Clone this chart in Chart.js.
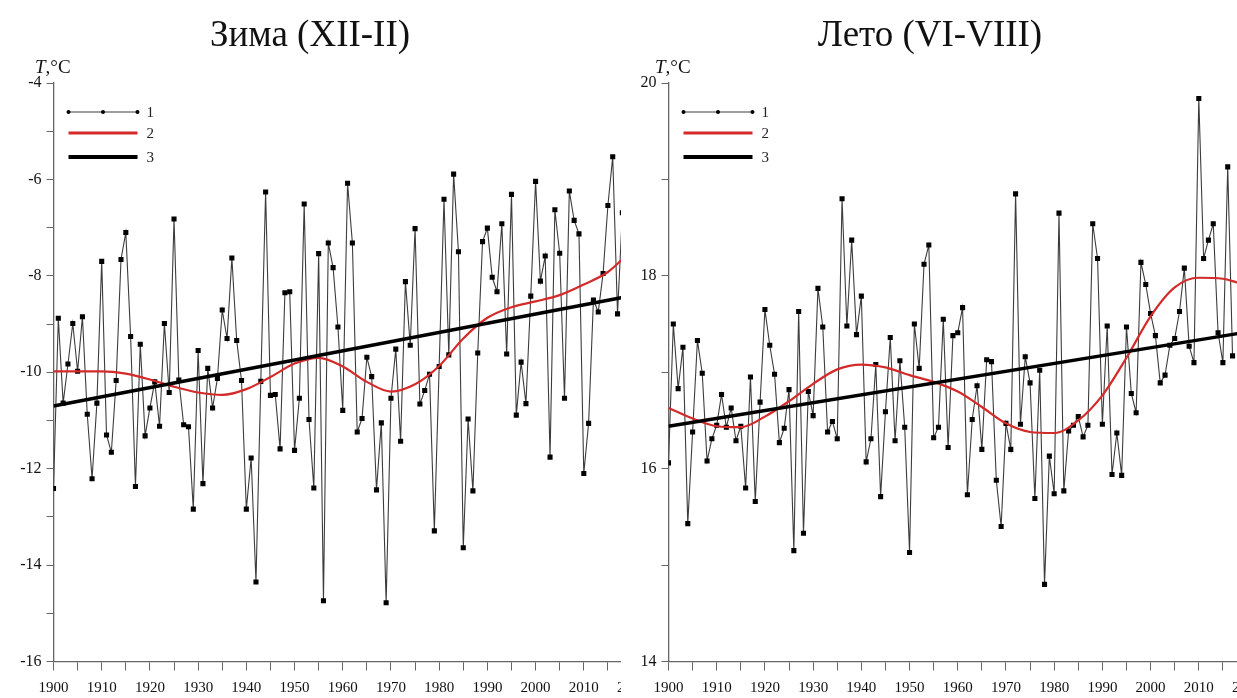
<!DOCTYPE html>
<html lang="ru">
<head>
<meta charset="utf-8">
<title>Зима (XII-II) / Лето (VI-VIII)</title>
<script src="https://cdn.jsdelivr.net/npm/chart.js@4.4.1/dist/chart.umd.min.js"></script>
<style>
  html, body { margin: 0; padding: 0; background: #fff; overflow: hidden; }
  body { width: 1237px; height: 698px; position: relative; font-family: "Liberation Serif", "Times New Roman", serif; color: #111; }
  .panel { position: absolute; top: 0; height: 698px; overflow: hidden; }
  .panel canvas { position: absolute; left: 0; top: 0; }
  .titulo { position: absolute; top: 12px; font-size: 37px; transform: translateX(-50%); white-space: nowrap; }
  .unidad { position: absolute; top: 56px; font-size: 19px; white-space: nowrap; }
</style>
</head>
<body>
<div class="panel" style="left:0;width:621px">
  <canvas id="graficaZima" width="680" height="698"></canvas>
</div>
<div class="panel" style="left:621px;width:616px">
  <canvas id="graficaLeto" width="680" height="698"></canvas>
</div>
<div class="titulo" style="left:310px">Зима (XII-II)</div>
<div class="titulo" style="left:930px">Лето (VI-VIII)</div>
<div class="unidad" style="left:35px"><i>T</i>,°C</div>
<div class="unidad" style="left:655px"><i>T</i>,°C</div>

<script>
// годы наблюдений
const yearsZima = Array.from({ length: 119 }, (_, i) => 1900 + i); // 1900-2018
const yearsLeto = Array.from({ length: 118 }, (_, i) => 1900 + i); // 1900-2017

// 1 - средняя температура сезона
const tempZima = [
    -12.41, -8.88, -10.64, -9.83, -8.99, -9.98, -8.85, -10.87, -12.21, -10.64,
    -7.70, -11.30, -11.66, -10.17, -7.66, -7.10, -9.26, -12.37, -9.42, -11.32,
    -10.74, -10.20, -11.12, -8.99, -10.42, -6.82, -10.16, -11.09, -11.13, -12.84,
    -9.55, -12.31, -9.92, -10.74, -10.13, -8.71, -9.30, -7.63, -9.34, -10.17,
    -12.84, -11.78, -14.35, -10.19, -6.26, -10.48, -10.46, -11.59, -8.35, -8.33,
    -11.62, -10.54, -6.51, -10.98, -12.40, -7.54, -14.74, -7.32, -7.83, -9.06,
    -10.79, -6.08, -7.32, -11.24, -10.96, -9.69, -10.09, -12.44, -11.05, -14.78,
    -10.54, -9.52, -11.43, -8.12, -9.44, -7.02, -10.66, -10.38, -10.04, -13.29,
    -9.88, -6.41, -9.64, -5.89, -7.50, -13.64, -10.97, -12.46, -9.60, -7.29,
    -7.01, -8.03, -8.33, -6.92, -9.62, -6.31, -10.89, -9.79, -10.65, -8.42,
    -6.04, -8.11, -7.59, -11.76, -6.63, -7.53, -10.54, -6.24, -6.85, -7.13,
    -12.10, -11.06, -8.50, -8.75, -7.95, -6.54, -5.53, -8.79, -6.69
];
const tempLeto = [
    16.06, 17.50, 16.83, 17.26, 15.43, 16.38, 17.33, 16.99, 16.08, 16.31,
    16.45, 16.77, 16.43, 16.63, 16.29, 16.44, 15.80, 16.95, 15.66, 16.69,
    17.65, 17.28, 16.98, 16.27, 16.42, 16.82, 15.15, 17.63, 15.33, 16.80,
    16.55, 17.87, 17.47, 16.38, 16.49, 16.31, 18.80, 17.48, 18.37, 17.39,
    17.79, 16.07, 16.31, 17.08, 15.71, 16.59, 17.36, 16.29, 17.12, 16.43,
    15.13, 17.50, 17.04, 18.12, 18.32, 16.32, 16.43, 17.55, 16.22, 17.38,
    17.41, 17.67, 15.73, 16.51, 16.86, 16.20, 17.13, 17.11, 15.88, 15.40,
    16.47, 16.20, 18.85, 16.46, 17.16, 16.89, 15.69, 17.02, 14.80, 16.13,
    15.74, 18.65, 15.77, 16.39, 16.45, 16.54, 16.33, 16.45, 18.54, 18.18,
    16.46, 17.48, 15.94, 16.37, 15.93, 17.47, 16.78, 16.58, 18.14, 17.91,
    17.61, 17.38, 16.89, 16.97, 17.28, 17.35, 17.63, 18.08, 17.27, 17.10,
    19.84, 18.18, 18.37, 18.54, 17.41, 17.10, 19.13, 17.17
];

// 2 - сглаженная кривая
const smoothYears = [1900, 1905, 1910, 1915, 1920, 1925, 1930, 1935, 1940, 1945, 1950, 1955,
    1960, 1965, 1970, 1975, 1980, 1985, 1990, 1995, 2000, 2005, 2010, 2015, 2018];
const smoothZima = [-9.98, -9.98, -9.98, -10.03, -10.15, -10.30, -10.42, -10.47, -10.35, -10.10, -9.82, -9.70,
    -9.88, -10.20, -10.40, -10.25, -9.87, -9.30, -8.87, -8.65, -8.53, -8.40, -8.18, -7.92, -7.66];
const smoothLeto = [16.63, 16.52, 16.44, 16.43, 16.54, 16.70, 16.88, 17.03, 17.08, 17.05, 16.97, 16.90,
    16.80, 16.64, 16.47, 16.38, 16.37, 16.50, 16.76, 17.15, 17.58, 17.88, 17.98, 17.97, 17.93];

// 3 - линейный тренд
const trendYears = [1900, 2018];
const trendZima = [-10.70, -8.45];
const trendLeto = [16.44, 17.40];

const fuente = "'Liberation Serif', 'Times New Roman', serif";

function puntos(xs, ys) {
    return xs.map((x, i) => ({ x: x, y: ys[i] }));
}

// легенда внутри поля графика
const leyendaPlugin = {
    id: 'leyenda',
    afterDraw(chart) {
        const ctx = chart.ctx;
        const x0 = chart.chartArea.left + 15;
        const x1 = x0 + 69;
        const filas = [112, 133, 157];
        ctx.save();
        chart.data.datasets.forEach((ds, i) => {
            const y = filas[i];
            ctx.beginPath();
            ctx.strokeStyle = ds.borderColor;
            ctx.lineWidth = i === 0 ? 1 : ds.borderWidth + 0.6;
            ctx.moveTo(x0, y);
            ctx.lineTo(x1, y);
            ctx.stroke();
            if (i === 0) {
                ctx.fillStyle = '#000';
                [x0, (x0 + x1) / 2, x1].forEach(px => {
                    ctx.beginPath();
                    ctx.arc(px, y, 2, 0, Math.PI * 2);
                    ctx.fill();
                });
            }
            ctx.fillStyle = '#222';
            ctx.font = '15px ' + fuente;
            ctx.textBaseline = 'middle';
            ctx.fillText(ds.label, x1 + 9, y + 1);
        });
        ctx.restore();
    }
};

function crearGrafica(id, cfg) {
    const ctx = document.getElementById(id);
    new Chart(ctx, {
        type: 'line',
        data: {
            datasets: [
                {
                    label: '1',
                    data: puntos(cfg.years, cfg.temp),
                    borderColor: '#3c3c3c',
                    borderWidth: 1.1,
                    pointStyle: 'rect',
                    pointRadius: 3.6,
                    pointBackgroundColor: '#000',
                    pointBorderWidth: 0,
                    tension: 0,
                    order: 3
                },
                {
                    label: '2',
                    data: puntos(smoothYears, cfg.smooth),
                    borderColor: '#d42a2a',
                    borderWidth: 2.2,
                    pointRadius: 0,
                    cubicInterpolationMode: 'monotone',
                    order: 2
                },
                {
                    label: '3',
                    data: puntos(trendYears, cfg.trend),
                    borderColor: '#000',
                    borderWidth: 3.4,
                    pointRadius: 0,
                    order: 1
                }
            ]
        },
        options: {
            responsive: false,
            animation: false,
            devicePixelRatio: 1,
            layout: { padding: { top: 83, right: cfg.padRight, left: 0, bottom: 0 } },
            plugins: { legend: { display: false }, tooltip: { enabled: false } },
            scales: {
                x: {
                    type: 'linear',
                    min: 1900,
                    max: 2020,
                    afterFit: s => { s.height = 36.5; },
                    grid: { drawOnChartArea: false, tickLength: 9, color: '#666', lineWidth: 1 },
                    border: { color: '#666', width: 1.3 },
                    ticks: {
                        stepSize: 5,
                        autoSkip: false,
                        maxRotation: 0,
                        padding: 9,
                        color: '#111',
                        font: { family: fuente, size: 15 },
                        callback: v => (v % 10 === 0 ? String(v) : '')
                    }
                },
                y: {
                    min: cfg.yMin,
                    max: cfg.yMax,
                    afterFit: s => { s.width = cfg.axisLeft; },
                    grid: { drawOnChartArea: false, tickLength: 7, color: '#666', lineWidth: 1 },
                    border: { color: '#666', width: 1.3 },
                    ticks: {
                        stepSize: 1,
                        padding: 5,
                        color: '#111',
                        font: { family: fuente, size: 16 },
                        callback: v => (v % 2 === 0 ? String(v) : '')
                    }
                }
            }
        },
        plugins: [leyendaPlugin]
    });
}

crearGrafica('graficaZima', {
    years: yearsZima, temp: tempZima, smooth: smoothZima, trend: trendZima,
    yMin: -16, yMax: -4, axisLeft: 53.5, padRight: 48
});
crearGrafica('graficaLeto', {
    years: yearsLeto, temp: tempLeto, smooth: smoothLeto, trend: trendLeto,
    yMin: 14, yMax: 20, axisLeft: 47.5, padRight: 54
});
</script>
</body>
</html>
